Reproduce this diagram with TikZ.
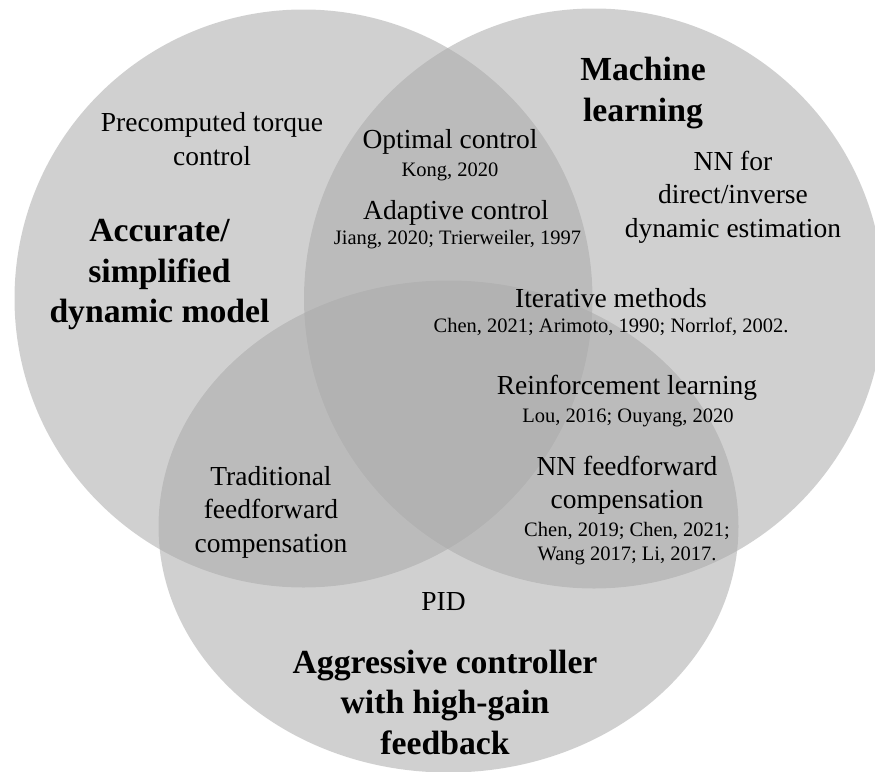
\documentclass[tikz,border=0pt]{standalone}
\usepackage{fontspec}
\setmainfont{Liberation Serif}
\definecolor{vgray}{RGB}{170,170,170}
\begin{document}
\begin{tikzpicture}[x=1pt,y=-1pt,
  venn/.style={fill=vgray, fill opacity=0.55, draw=none},
  title/.style={font=\fontsize{33.7}{40.5}\selectfont\bfseries, align=center, inner sep=0pt},
  item/.style={font=\fontsize{27.5}{33.5}\selectfont, align=center, inner sep=0pt},
  cite/.style={font=\fontsize{20.5}{24}\selectfont, align=center, inner sep=0pt}]
\useasboundingbox (0,0) rectangle (875,771);
\clip (0,0) rectangle (875,771);
% circles
\fill[venn] (303.5,298.5) circle[radius=289pt];
\fill[venn] (594,298.5) circle[radius=290pt];
\fill[venn] (448.5,526.5) ellipse[x radius=290pt, y radius=246pt];
% texts
\node[item] (pre) at (212,139) {Precomputed torque\\control};
\node[title] (acc) at (159.5,275) {Accurate/\\simplified\\dynamic model};
\node[item] (opt) at (450,142) {Optimal control};
\node[cite] (kong) at (450,172) {Kong, 2020};
\node[item] (adap) at (456,213) {Adaptive control};
\node[cite] (jiang) at (457.5,240) {Jiang, 2020; Trierweiler, 1997};
\node[title] (ml) at (643,93) {Machine\\learning};
\node[item] (nnfor) at (733,197) {NN for\\direct/inverse\\dynamic estimation};
\node[item] (iter) at (611,298) {Iterative methods};
\node[cite] (itercite) at (611,327) {Chen, 2021; Arimoto, 1990; Norrlof, 2002.};
\node[item] (rl) at (627,388) {Reinforcement learning};
\node[cite] (rlcite) at (628,418) {Lou, 2016; Ouyang, 2020};
\node[item] (nnff) at (627,485) {NN feedforward\\compensation};
\node[cite] (nnffcite) at (627,544) {Chen, 2019; Chen, 2021;\\Wang 2017; Li, 2017.};
\node[item] (trad) at (271,512) {Traditional\\feedforward\\compensation};
\node[item] (pid) at (443.5,602) {PID};
\node[title] (agg) at (445,702) {Aggressive controller\\with high-gain\\feedback};
\end{tikzpicture}
\end{document}
